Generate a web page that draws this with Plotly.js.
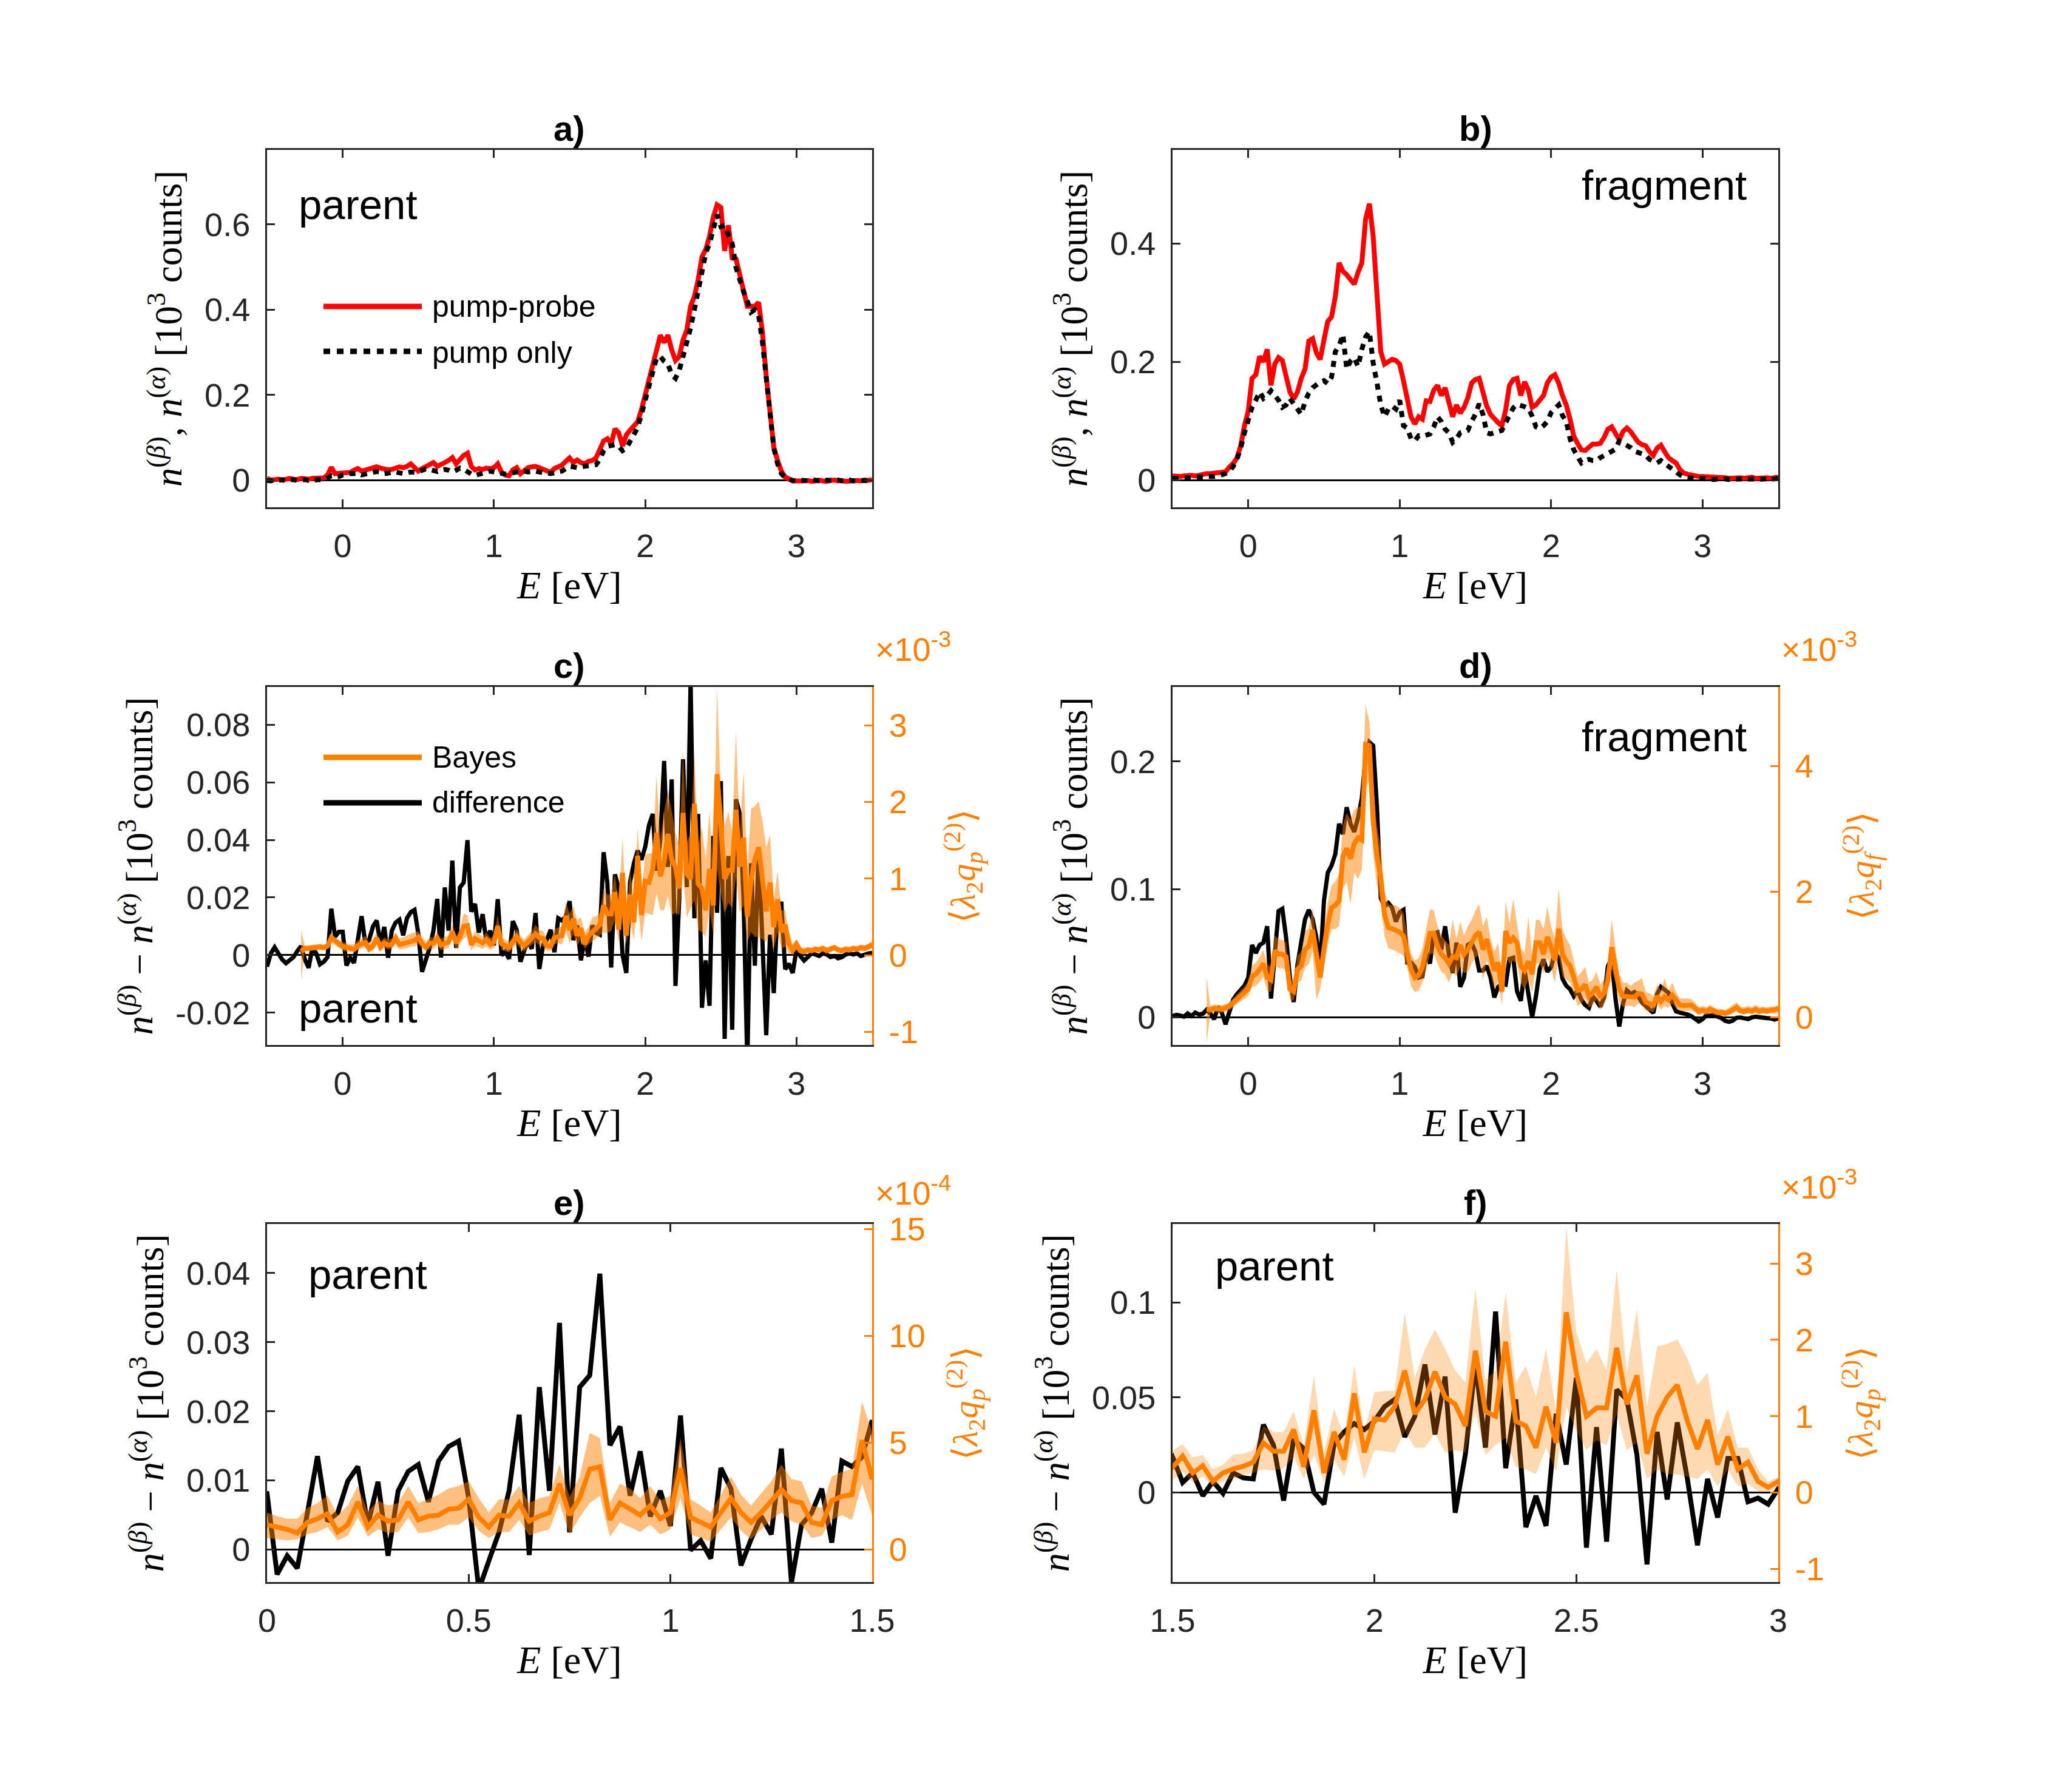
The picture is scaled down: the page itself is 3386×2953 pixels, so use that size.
<!DOCTYPE html>
<html><head><meta charset="utf-8">
<script src="https://cdn.plot.ly/plotly-3.0.1.min.js"></script>
<style>html,body{margin:0;padding:0;background:#fff;}#chart{width:3386px;height:2953px;}</style>
</head><body><div id="chart"></div>
<script>
// ---------------- DATA ----------------
// energy grid (eV): E = E_START + i*E_STEP, 161 bins
const E_START = -0.5, E_STEP = 0.025, N_E = 161;
// Bayes estimates start at this energy (same step)
const BAYES_E_START = -0.275;

// a) parent, 10^3 counts
const parentPumpProbe = [
0.004,0.000,0.001,0.002,0.000,0.003,0.004,0.002,0.001,0.004,0.003,0.002,0.004,0.005,0.006,0.005,0.012,0.030,0.015,0.016,
0.015,0.017,0.018,0.023,0.027,0.021,0.023,0.025,0.028,0.031,0.028,0.026,0.024,0.025,0.028,0.031,0.029,0.032,0.038,0.029,
0.021,0.027,0.032,0.038,0.041,0.032,0.035,0.041,0.046,0.053,0.038,0.049,0.058,0.063,0.032,0.024,0.027,0.025,0.028,0.027,
0.029,0.038,0.018,0.012,0.010,0.024,0.029,0.015,0.021,0.029,0.031,0.032,0.029,0.025,0.021,0.018,0.027,0.031,0.035,0.044,
0.052,0.041,0.047,0.041,0.038,0.044,0.046,0.052,0.072,0.092,0.097,0.085,0.120,0.111,0.080,0.106,0.117,0.126,0.137,0.165,
0.199,0.236,0.278,0.312,0.340,0.323,0.340,0.306,0.281,0.290,0.329,0.352,0.408,0.431,0.470,0.524,0.541,0.572,0.617,0.646,
0.640,0.538,0.598,0.521,0.519,0.482,0.445,0.408,0.408,0.408,0.417,0.346,0.244,0.148,0.077,0.046,0.021,0.007,0.001,-0.002,
-0.002,-0.003,-0.002,-0.001,-0.003,-0.002,0.000,-0.002,-0.003,-0.001,0.000,-0.002,-0.001,-0.003,-0.002,0.000,-0.001,-0.002,0.000,-0.001,0.001];
const parentPumpOnly = [
-0.001,-0.002,0.000,-0.001,0.001,-0.002,0.000,0.001,-0.001,0.000,0.001,-0.001,0.000,0.002,0.001,0.000,0.004,0.010,0.007,0.008,
0.012,0.014,0.015,0.015,0.016,0.012,0.015,0.016,0.018,0.020,0.019,0.015,0.016,0.017,0.019,0.017,0.015,0.017,0.019,0.018,
0.019,0.023,0.026,0.025,0.023,0.020,0.023,0.025,0.023,0.019,0.023,0.028,0.025,0.018,0.014,0.011,0.014,0.016,0.019,0.021,
0.019,0.017,0.015,0.014,0.015,0.018,0.019,0.020,0.021,0.019,0.021,0.021,0.019,0.017,0.015,0.015,0.017,0.019,0.021,0.027,
0.032,0.031,0.029,0.031,0.032,0.033,0.034,0.036,0.049,0.069,0.079,0.081,0.083,0.079,0.069,0.075,0.092,0.106,0.123,0.154,
0.188,0.227,0.261,0.287,0.290,0.279,0.273,0.247,0.239,0.258,0.290,0.323,0.357,0.400,0.448,0.496,0.533,0.555,0.589,0.623,
0.595,0.598,0.575,0.555,0.499,0.468,0.442,0.420,0.394,0.400,0.386,0.323,0.233,0.142,0.075,0.038,0.015,0.006,0.001,-0.001,
-0.002,0.000,-0.001,-0.002,0.001,-0.001,-0.002,0.000,-0.001,-0.002,-0.001,0.000,-0.002,-0.001,0.000,-0.002,-0.001,0.000,-0.001,-0.002,-0.001];

// b) fragment, 10^3 counts
const fragmentPumpProbe = [
0.007,0.006,0.006,0.007,0.008,0.008,0.007,0.009,0.010,0.011,0.011,0.012,0.014,0.015,0.014,0.022,0.028,0.037,0.058,0.092,
0.117,0.172,0.178,0.209,0.200,0.221,0.160,0.196,0.207,0.202,0.174,0.149,0.137,0.149,0.172,0.188,0.235,0.239,0.215,0.204,
0.237,0.268,0.276,0.310,0.367,0.353,0.347,0.339,0.331,0.351,0.367,0.441,0.467,0.412,0.310,0.217,0.196,0.200,0.204,0.202,
0.196,0.168,0.133,0.107,0.095,0.107,0.103,0.134,0.133,0.152,0.160,0.143,0.156,0.131,0.107,0.127,0.113,0.123,0.139,0.164,
0.170,0.172,0.147,0.125,0.111,0.103,0.097,0.092,0.119,0.160,0.170,0.172,0.143,0.166,0.152,0.123,0.127,0.135,0.143,0.164,
0.174,0.178,0.164,0.143,0.127,0.103,0.074,0.062,0.051,0.050,0.057,0.061,0.061,0.062,0.072,0.086,0.090,0.078,0.068,0.082,
0.088,0.082,0.072,0.064,0.060,0.058,0.048,0.042,0.054,0.059,0.048,0.038,0.033,0.029,0.018,0.012,0.010,0.008,0.007,0.006,
0.006,0.006,0.005,0.004,0.005,0.006,0.004,0.003,0.004,0.005,0.004,0.003,0.004,0.005,0.003,0.004,0.005,0.004,0.003,0.004,0.005];
const fragmentPumpOnly = [
0.003,0.002,0.003,0.004,0.003,0.004,0.005,0.004,0.005,0.006,0.005,0.006,0.007,0.008,0.011,0.015,0.023,0.035,0.054,0.080,
0.101,0.123,0.135,0.149,0.138,0.143,0.151,0.144,0.135,0.123,0.127,0.138,0.128,0.119,0.111,0.133,0.147,0.156,0.162,0.166,
0.168,0.163,0.174,0.217,0.227,0.246,0.188,0.201,0.207,0.192,0.221,0.242,0.251,0.198,0.164,0.127,0.107,0.120,0.125,0.120,
0.135,0.092,0.088,0.070,0.066,0.075,0.074,0.076,0.078,0.090,0.107,0.099,0.086,0.080,0.064,0.070,0.080,0.082,0.084,0.099,
0.111,0.129,0.111,0.080,0.078,0.080,0.081,0.084,0.097,0.109,0.122,0.128,0.127,0.124,0.121,0.108,0.090,0.087,0.092,0.099,
0.114,0.121,0.127,0.109,0.099,0.070,0.051,0.040,0.029,0.033,0.035,0.033,0.033,0.038,0.042,0.046,0.049,0.052,0.066,0.063,
0.059,0.055,0.049,0.046,0.044,0.042,0.035,0.031,0.029,0.033,0.028,0.023,0.019,0.014,0.009,0.006,0.004,0.003,0.002,0.003,
0.002,0.003,0.002,0.001,0.002,0.003,0.002,0.001,0.002,0.003,0.002,0.001,0.002,0.002,0.001,0.002,0.003,0.002,0.001,0.002,0.003];

// c), e), f) parent difference n(beta)-n(alpha), 10^3 counts
const parentDifference = [
-0.0040,0.0006,0.0027,0.0006,-0.0015,-0.0028,-0.0019,-0.0007,0.0014,0.0031,-0.0015,-0.0044,0.0027,0.0006,-0.0032,-0.0023,-0.0007,0.0161,0.0064,0.0081,
0.0081,-0.0036,-0.0009,-0.0027,0.0053,0.0135,0.0041,0.0053,0.0099,0.0120,0.0036,0.0098,-0.0009,0.0085,0.0113,0.0123,0.0069,0.0128,0.0149,0.0157,
0.0074,-0.0058,-0.0016,0.0025,0.0085,0.0195,-0.0008,0.0235,0.0085,0.0328,0.0025,0.0235,0.0252,0.0399,0.0151,0.0178,0.0078,0.0142,0.0048,0.0085,
0.0034,0.0194,-0.0001,0.0013,-0.0013,0.0118,0.0088,-0.0023,0.0015,0.0048,0.0022,0.0146,-0.0048,0.0036,0.0053,0.0088,0.0010,0.0128,0.0120,0.0134,
0.0187,0.0052,0.0103,-0.0018,0.0058,-0.0005,0.0103,0.0077,0.0071,0.0357,0.0249,-0.0043,0.0280,0.0230,0.0001,-0.0062,0.0255,0.0319,0.0363,0.0331,
0.0376,0.0452,0.0490,0.0293,0.0401,0.0674,0.0306,0.0610,-0.0107,0.0198,0.0680,0.0236,0.0953,0.0128,0.0490,-0.0183,-0.0018,-0.0176,0.0414,0.0147,
0.0604,-0.0291,0.0344,-0.0259,0.0541,0.0490,0.0198,-0.0379,0.0319,-0.0037,0.0369,0.0071,-0.0278,0.0071,-0.0132,0.0179,0.0179,-0.0049,-0.0030,-0.0062,
0.0020,-0.0003,-0.0019,-0.0007,0.0006,0.0002,-0.0003,0.0006,0.0002,-0.0007,-0.0003,-0.0011,-0.0007,0.0002,0.0006,0.0002,0.0006,-0.0003,0.0002,0.0006,0.0008];

// parent Bayes <lambda2 qp(2)> in units of 1e-3 (from -0.275 eV)
const parentBayesMean = [
0.05,0.09,0.09,0.10,0.10,0.11,0.10,0.12,0.23,0.18,0.15,
0.116,0.105,0.094,0.077,0.127,0.144,0.167,0.082,0.116,0.223,0.105,0.161,0.133,0.139,0.223,0.139,0.156,0.161,0.189,0.193,
0.235,0.150,0.105,0.161,0.156,0.218,0.133,0.156,0.173,0.308,0.161,0.240,0.376,0.387,0.139,0.218,0.189,0.161,0.206,0.144,
0.173,0.381,0.150,0.127,0.105,0.173,0.240,0.173,0.127,0.173,0.223,0.280,0.229,0.218,0.127,0.116,0.229,0.249,0.257,0.511,0.33,
0.477,0.256,0.350,0.145,0.256,0.309,0.341,0.398,0.650,0.540,0.540,0.824,0.335,1.077,0.256,0.792,0.429,1.298,0.524,0.966,
0.950,1.124,1.597,1.029,1.219,1.582,1.250,1.155,0.871,1.856,1.061,0.998,1.976,0.934,0.871,0.587,1.124,0.650,2.361,1.566,
0.998,1.108,1.108,1.897,1.155,1.534,0.508,0.998,1.250,1.408,0.934,0.571,0.950,0.366,0.729,0.303,0.398,0.145,0.066,0.145,
0.06,0.05,0.07,0.06,0.08,0.07,0.09,0.06,0.08,0.10,0.07,0.06,0.08,0.07,0.09,0.08,0.10,0.09,0.11,0.14];
const parentBayesLow = [
-0.32,0.05,0.05,0.06,0.06,0.07,0.06,0.08,0.17,0.13,0.10,
0.054,0.048,0.043,0.048,0.071,0.082,0.105,0.043,0.065,0.150,0.060,0.094,0.077,0.082,0.150,0.077,0.082,0.094,0.116,0.116,
0.150,0.088,0.054,0.082,0.082,0.139,0.065,0.082,0.094,0.218,0.071,0.150,0.218,0.252,0.060,0.127,0.105,0.082,0.116,0.071,
0.094,0.240,0.071,0.054,0.037,0.094,0.150,0.088,0.048,0.094,0.139,0.173,0.133,0.116,0.054,0.065,0.139,0.161,0.139,0.308,0.16,
0.272,0.129,0.208,0.082,0.145,0.177,0.224,0.256,0.303,0.287,0.319,0.461,0.177,0.493,0.145,0.429,0.208,0.713,0.177,0.556,
0.540,0.524,0.808,0.587,0.587,0.777,0.524,0.556,0.524,1.061,0.493,0.619,0.713,0.335,0.303,0.240,0.587,0.272,1.124,0.808,
0.556,0.682,0.619,1.029,0.556,0.650,0.177,0.303,0.240,0.240,0.208,0.177,0.303,0.082,0.303,0.082,0.114,0.019,0.019,0.066,
0.02,0.01,0.03,0.02,0.04,0.03,0.05,0.02,0.04,0.06,0.03,0.02,0.04,0.03,0.05,0.04,0.06,0.05,0.07,0.09];
const parentBayesHigh = [
0.32,0.13,0.13,0.14,0.14,0.15,0.14,0.16,0.29,0.23,0.20,
0.173,0.156,0.144,0.144,0.195,0.218,0.252,0.161,0.206,0.297,0.178,0.229,0.206,0.218,0.297,0.218,0.235,0.257,0.285,0.297,
0.319,0.240,0.173,0.235,0.235,0.297,0.218,0.240,0.252,0.398,0.246,0.342,0.545,0.522,0.218,0.308,0.285,0.240,0.297,0.229,
0.252,0.522,0.235,0.206,0.173,0.257,0.342,0.257,0.206,0.263,0.319,0.398,0.330,0.319,0.206,0.195,0.342,0.364,0.376,0.691,0.55,
0.635,0.461,0.493,0.303,0.366,0.493,0.508,0.556,0.871,0.792,0.792,1.061,0.619,1.534,0.524,1.092,0.745,1.661,0.808,1.313,
1.329,1.329,2.355,1.503,1.882,2.134,1.882,1.597,1.440,2.671,1.471,1.597,2.624,1.440,1.661,1.250,1.882,1.061,3.492,2.103,
1.692,1.882,1.597,2.923,1.566,2.403,1.124,1.913,1.945,2.008,1.755,1.408,1.566,0.745,1.092,0.587,0.587,0.303,0.145,0.208,
0.10,0.09,0.11,0.10,0.12,0.11,0.13,0.10,0.12,0.14,0.11,0.10,0.12,0.11,0.13,0.12,0.14,0.13,0.15,0.19];

// d) fragment difference, 10^3 counts
const fragmentDifference = [
0.0009,0.0018,0.0013,0.0004,0.0030,0.0009,0.0036,0.0022,0.0027,0.0058,0.0027,-0.0015,0.0082,0.0036,-0.0055,0.0036,0.0137,0.0179,0.0219,0.0246,
0.0310,0.0565,0.0501,0.0565,0.0583,0.0711,0.0146,0.0456,0.0830,0.0848,0.0620,0.0310,0.0119,0.0410,0.0593,0.0766,0.0839,0.0766,0.0620,0.0401,
0.0912,0.1130,0.1185,0.1276,0.1513,0.1431,0.1641,0.1513,0.1449,0.1559,0.1714,0.2042,0.2151,0.2124,0.1641,0.0930,0.0866,0.0893,0.0857,0.0747,
0.0820,0.0839,0.0428,0.0428,0.0392,0.0310,0.0319,0.0510,0.0419,0.0656,0.0665,0.0529,0.0711,0.0492,0.0346,0.0583,0.0237,0.0310,0.0565,0.0583,
0.0510,0.0365,0.0365,0.0401,0.0310,0.0155,0.0237,0.0264,0.0255,0.0456,0.0465,0.0201,0.0128,0.0365,0.0182,0.0000,0.0164,0.0379,0.0452,0.0356,
0.0392,0.0501,0.0465,0.0301,0.0246,0.0219,0.0164,0.0210,0.0137,0.0095,0.0073,0.0160,0.0128,0.0082,0.0155,0.0401,0.0456,0.0146,-0.0073,0.0109,
0.0210,0.0182,0.0197,0.0164,0.0115,0.0091,0.0060,0.0033,0.0182,0.0237,0.0215,0.0191,0.0109,0.0046,0.0036,0.0033,0.0022,0.0009,-0.0011,-0.0033,
-0.0015,0.0015,0.0011,0.0022,0.0004,-0.0007,-0.0029,-0.0036,-0.0027,-0.0004,-0.0002,-0.0011,-0.0015,-0.0002,0.0004,0.0000,0.0000,-0.0007,-0.0009,-0.0018,-0.0009];

// fragment Bayes <lambda2 qf(2)> in units of 1e-3 (from -0.275 eV)
const fragmentBayesMean = [
0.130,0.119,0.141,0.137,0.130,0.148,0.178,0.230,0.286,0.334,0.390,
0.453,0.649,0.686,0.761,0.853,0.631,0.594,1.058,1.009,1.002,0.965,0.445,0.408,0.761,0.816,1.076,1.132,1.391,0.965,0.631,
1.095,1.484,1.744,1.781,1.855,2.560,2.690,2.523,2.764,2.857,2.820,4.341,4.323,3.117,2.560,2.226,1.633,1.429,1.410,1.388,
1.354,1.291,1.039,0.761,0.631,0.668,0.798,1.039,1.336,1.336,1.132,1.002,0.946,0.853,0.965,0.946,1.150,1.002,1.076,1.187,
1.299,1.354,1.076,
1.243,0.983,0.742,0.872,0.408,1.373,1.187,1.262,1.187,0.816,0.742,0.891,0.686,1.187,1.187,1.002,1.280,1.113,0.909,1.410,
1.002,0.891,0.816,0.631,0.427,0.445,0.519,0.334,0.390,0.482,0.315,0.390,0.575,1.113,0.816,0.445,0.334,0.334,0.327,0.319,
0.378,0.371,0.241,0.223,0.193,0.334,0.252,0.323,0.278,0.353,0.260,0.193,0.186,0.193,0.193,0.148,0.093,0.111,0.093,0.126,
0.093,0.074,0.074,0.059,0.082,0.119,0.156,0.104,0.093,0.111,0.096,0.126,0.093,0.111,0.096,0.111,0.111,0.130];
const fragmentBayesLow = [
-0.40,0.07,0.08,0.08,0.07,0.09,0.11,0.16,0.21,0.25,0.29,
0.34,0.48,0.50,0.56,0.64,0.42,0.40,0.82,0.78,0.78,0.74,0.28,0.26,0.55,0.58,0.80,0.84,1.05,0.28,0.45,
0.82,1.15,1.40,1.40,1.45,2.05,2.15,1.80,2.30,2.20,2.35,3.60,3.80,2.60,2.10,1.80,1.30,1.10,1.08,1.05,
1.02,0.98,0.78,0.50,0.40,0.42,0.55,0.75,1.00,1.02,0.85,0.72,0.68,0.55,0.72,0.65,0.80,0.70,0.72,0.85,
0.95,1.00,0.60,
0.90,0.70,0.45,0.58,0.20,0.98,0.85,0.90,0.85,0.55,0.45,0.60,0.40,0.85,0.85,0.70,0.95,0.78,0.55,1.00,
0.65,0.60,0.55,0.38,0.18,0.22,0.30,0.15,0.20,0.28,0.12,0.20,0.38,0.78,0.55,0.25,0.16,0.18,0.18,0.16,
0.22,0.20,0.10,0.10,0.08,0.20,0.12,0.18,0.15,0.22,0.14,0.10,0.10,0.10,0.11,0.08,0.03,0.05,0.04,0.06,
0.04,0.03,0.03,0.02,0.03,0.06,0.09,0.05,0.04,0.06,0.04,0.07,0.04,0.06,0.05,0.06,0.05,0.07];
const fragmentBayesHigh = [
0.63,0.18,0.20,0.20,0.19,0.21,0.24,0.30,0.36,0.42,0.49,
0.57,0.82,0.87,0.96,1.07,0.84,0.80,1.30,1.24,1.23,1.19,0.62,0.56,0.98,1.05,1.36,1.42,1.74,1.20,0.85,
1.38,1.82,2.10,2.16,2.28,3.05,3.25,3.15,3.30,3.35,3.35,4.97,4.70,3.70,3.05,2.70,2.00,1.80,1.78,1.78,
1.74,1.66,1.32,1.02,0.90,0.94,1.10,1.40,1.72,1.70,1.45,1.30,1.22,1.15,1.55,1.25,1.52,1.30,1.45,1.55,
1.70,1.80,1.45,
1.60,1.25,1.05,1.18,0.62,1.85,1.50,1.88,1.50,1.10,1.02,1.60,0.98,1.55,1.55,1.40,1.75,1.45,1.25,2.05,
1.40,1.25,1.15,0.90,0.65,0.72,0.80,0.55,0.60,0.72,0.52,0.60,0.85,1.55,1.12,0.68,0.55,0.55,0.50,0.55,
0.58,0.62,0.40,0.38,0.33,0.52,0.42,0.62,0.42,0.55,0.40,0.30,0.30,0.30,0.29,0.24,0.16,0.18,0.16,0.20,
0.16,0.13,0.13,0.12,0.15,0.20,0.24,0.17,0.16,0.18,0.16,0.20,0.16,0.17,0.16,0.17,0.17,0.20];

// tick labels
const xTicksWide = [0,1,2,3];
const xTicksE = [0,0.5,1,1.5], xTicksEText = ['0','0.5','1','1.5'];
const xTicksF = [1.5,2,2.5,3], xTicksFText = ['1.5','2','2.5','3'];

// ---------------- PLOT ----------------
const W = 3386, H = 2953;
const ORANGE = '#FF8000', AXC = '#262626';
const SANS = 'Liberation Sans, Arial, sans-serif';
const SERIF = 'Liberation Serif, Times New Roman, serif';

const E = Array.from({length: N_E}, (_, i) => +(E_START + i * E_STEP).toFixed(4));
const EB = Array.from({length: parentBayesMean.length}, (_, i) => +(BAYES_E_START + i * E_STEP).toFixed(4));

const COL = [[440, 1437], [1932, 2930]];
const ROW = [[247, 836], [1132, 1722], [2017, 2607]];
const xd = c => [COL[c][0] / W, COL[c][1] / W];
const yd = r => [1 - ROW[r][1] / H, 1 - ROW[r][0] / H];
const PX = p => p / W, PY = p => 1 - p / H;

function ln(x, y, xa, ya, color, width, dash) {
  return {type: 'scatter', mode: 'lines', x: x, y: y, xaxis: xa, yaxis: ya,
    line: {color: color, width: width, dash: dash || 'solid'}, hoverinfo: 'skip', showlegend: false};
}
function band(x, lo, hi, xa, ya, alpha) {
  return {type: 'scatter', mode: 'lines', x: x.concat(x.slice().reverse()), y: hi.concat(lo.slice().reverse()),
    fill: 'toself', fillcolor: 'rgba(255,128,0,' + alpha + ')', line: {width: 0, color: 'rgba(0,0,0,0)'},
    xaxis: xa, yaxis: ya, hoverinfo: 'skip', showlegend: false};
}
const DOT = '10px,10px';
const traces = [
  ln(E, parentPumpProbe, 'x', 'y', '#FF0000', 8), ln(E, parentPumpOnly, 'x', 'y', '#000', 8, DOT),
  ln(E, fragmentPumpProbe, 'x2', 'y2', '#FF0000', 8), ln(E, fragmentPumpOnly, 'x2', 'y2', '#000', 8, DOT),
  ln(E, parentDifference, 'x3', 'y3', '#000', 7),
  band(EB, parentBayesLow, parentBayesHigh, 'x3', 'y7', 0.5), ln(EB, parentBayesMean, 'x3', 'y7', ORANGE, 8),
  ln(E, fragmentDifference, 'x4', 'y4', '#000', 7),
  band(EB, fragmentBayesLow, fragmentBayesHigh, 'x4', 'y8', 0.5), ln(EB, fragmentBayesMean, 'x4', 'y8', ORANGE, 8),
  ln(E, parentDifference, 'x5', 'y5', '#000', 8),
  band(EB, parentBayesLow, parentBayesHigh, 'x5', 'y9', 0.5), ln(EB, parentBayesMean, 'x5', 'y9', ORANGE, 8),
  ln(E, parentDifference, 'x6', 'y6', '#000', 8),
  band(EB, parentBayesLow, parentBayesHigh, 'x6', 'y10', 0.3), ln(EB, parentBayesMean, 'x6', 'y10', ORANGE, 8)
];

const BASE = {showline: true, linecolor: AXC, linewidth: 3, ticks: 'inside', ticklen: 13, tickwidth: 3, tickcolor: AXC,
  showgrid: false, zeroline: false, automargin: false, fixedrange: true, ticklabelstandoff: 14,
  tickfont: {family: SANS, size: 54, color: AXC}};
const xTitle = {text: '<i>E</i> [eV]', font: {family: SERIF, size: 64, color: '#000'}, standoff: 14};
const yTitleAB = '<i>n</i><sup>(<i>β</i>)</sup>, <i>n</i><sup>(<i>α</i>)</sup> [10<sup>3</sup> counts]';
const yTitleDiff = '<i>n</i><sup>(<i>β</i>)</sup> − <i>n</i><sup>(<i>α</i>)</sup> [10<sup>3</sup> counts]';

function xax(c, r, anchor, range, tv, tt) {
  return Object.assign({}, BASE, {domain: xd(c), anchor: anchor, range: range, tickvals: tv, ticktext: tt || tv.map(String),
    mirror: 'ticks', title: xTitle});
}
function yax(c, r, anchor, range, tv, tt, title, mirror) {
  return Object.assign({}, BASE, {domain: yd(r), anchor: anchor, range: range, tickvals: tv, ticktext: tt,
    mirror: mirror, zeroline: true, zerolinecolor: '#000', zerolinewidth: 3,
    title: {text: title, font: {family: SERIF, size: 63, color: '#000'}, standoff: 18}});
}
function yr(over, anchor, range, tv, tt) {
  return Object.assign({}, BASE, {overlaying: over, side: 'right', anchor: anchor, range: range, tickvals: tv, ticktext: tt,
    linecolor: ORANGE, tickcolor: ORANGE, tickfont: {family: SANS, size: 54, color: ORANGE}, mirror: false});
}

const layout = {
  width: W, height: H, margin: {l: 0, r: 0, t: 0, b: 0}, paper_bgcolor: '#fff', plot_bgcolor: '#fff', showlegend: false,
  xaxis: xax(0, 0, 'y', [-0.5, 3.5], xTicksWide),
  xaxis2: xax(1, 0, 'y2', [-0.5, 3.5], xTicksWide),
  xaxis3: xax(0, 1, 'y3', [-0.5, 3.5], xTicksWide),
  xaxis4: xax(1, 1, 'y4', [-0.5, 3.5], xTicksWide),
  xaxis5: xax(0, 2, 'y5', [0, 1.5], xTicksE, xTicksEText),
  xaxis6: xax(1, 2, 'y6', [1.5, 3], xTicksF, xTicksFText),
  yaxis: yax(0, 0, 'x', [-0.064, 0.775], [0, 0.2, 0.4, 0.6], ['0', '0.2', '0.4', '0.6'], yTitleAB, 'ticks'),
  yaxis2: yax(1, 0, 'x2', [-0.046, 0.558], [0, 0.2, 0.4], ['0', '0.2', '0.4'], yTitleAB, 'ticks'),
  yaxis3: yax(0, 1, 'x3', [-0.0312, 0.0931], [-0.02, 0, 0.02, 0.04, 0.06, 0.08], ['-0.02', '0', '0.02', '0.04', '0.06', '0.08'], yTitleDiff, false),
  yaxis4: yax(1, 1, 'x4', [-0.0217, 0.2582], [0, 0.1, 0.2], ['0', '0.1', '0.2'], yTitleDiff, false),
  yaxis5: yax(0, 2, 'x5', [-0.0047, 0.0471], [0, 0.01, 0.02, 0.03, 0.04], ['0', '0.01', '0.02', '0.03', '0.04'], yTitleDiff, false),
  yaxis6: yax(1, 2, 'x6', [-0.0472, 0.1414], [0, 0.05, 0.1], ['0', '0.05', '0.1'], yTitleDiff, false),
  yaxis7: yr('y3', 'x3', [-1.17, 3.5], [-1, 0, 1, 2, 3], ['-1', '0', '1', '2', '3']),
  yaxis8: yr('y4', 'x4', [-0.442, 5.258], [0, 2, 4], ['0', '2', '4']),
  yaxis9: yr('y5', 'x5', [-0.152, 1.523], [0, 0.5, 1.0, 1.5], ['0', '5', '10', '15']),
  yaxis10: yr('y6', 'x6', [-1.174, 3.518], [-1, 0, 1, 2, 3], ['-1', '0', '1', '2', '3']),
  shapes: [
    {type: 'line', xref: 'paper', yref: 'paper', x0: PX(533), x1: PX(695), y0: PY(505), y1: PY(505), line: {color: '#FF0000', width: 9}},
    {type: 'line', xref: 'paper', yref: 'paper', x0: PX(533), x1: PX(695), y0: PY(579), y1: PY(579), line: {color: '#000', width: 9, dash: '11px,11px'}},
    {type: 'line', xref: 'paper', yref: 'paper', x0: PX(533), x1: PX(695), y0: PY(1248), y1: PY(1248), line: {color: ORANGE, width: 9}},
    {type: 'line', xref: 'paper', yref: 'paper', x0: PX(533), x1: PX(695), y0: PY(1323), y1: PY(1323), line: {color: '#000', width: 9}}
  ],
  annotations: []
};

const A = layout.annotations;
function txt(text, x, y, xanchor, size, color, extra) {
  A.push(Object.assign({text: text, xref: 'paper', yref: 'paper', x: PX(x), y: PY(y), xanchor: xanchor, yanchor: 'middle',
    showarrow: false, font: {family: SANS, size: size, color: color || '#000'}}, extra || {}));
}
// panel titles
[['a)', 938, 212], ['b)', 2431, 212], ['c)', 938, 1096], ['d)', 2431, 1096], ['e)', 938, 1981], ['f)', 2431, 1981]]
  .forEach(t => txt('<b>' + t[0] + '</b>', t[1], t[2], 'center', 58));
// in-panel labels
txt('parent', 490, 338, 'left', 69);
txt('fragment', 2880, 306, 'right', 69);
txt('parent', 490, 1662, 'left', 69);
txt('fragment', 2880, 1214, 'right', 69);
txt('parent', 506, 2100, 'left', 69);
txt('parent', 2000, 2086, 'left', 69);
// legend labels
txt('pump-probe', 710, 505, 'left', 50);
txt('pump only', 710, 581, 'left', 50);
txt('Bayes', 710, 1248, 'left', 50);
txt('difference', 710, 1322, 'left', 50);
// exponents
txt('×10<sup>-3</sup>', 1440, 1066, 'left', 54, ORANGE);
txt('×10<sup>-3</sup>', 2933, 1066, 'left', 54, ORANGE);
txt('×10<sup>-4</sup>', 1440, 1962, 'left', 54, ORANGE);
txt('×10<sup>-3</sup>', 2933, 1952, 'left', 54, ORANGE);
// right axis titles (read bottom to top)
const rt = s => '⟨<i>λ</i><sub>2</sub><i>q</i><sub><i>' + s + '</i></sub><sup>(2)</sup>⟩';
const rtFont = {family: SERIF, size: 58, color: ORANGE};
txt(rt('p'), 1587, 1427, 'center', 58, ORANGE, {textangle: -90, font: rtFont});
txt(rt('f'), 3068, 1427, 'center', 58, ORANGE, {textangle: -90, font: rtFont});
txt(rt('p'), 1591, 2312, 'center', 58, ORANGE, {textangle: -90, font: rtFont});
txt(rt('p'), 3066, 2312, 'center', 58, ORANGE, {textangle: -90, font: rtFont});

Plotly.newPlot('chart', traces, layout, {staticPlot: true, displayModeBar: false});
</script>
</body></html>
